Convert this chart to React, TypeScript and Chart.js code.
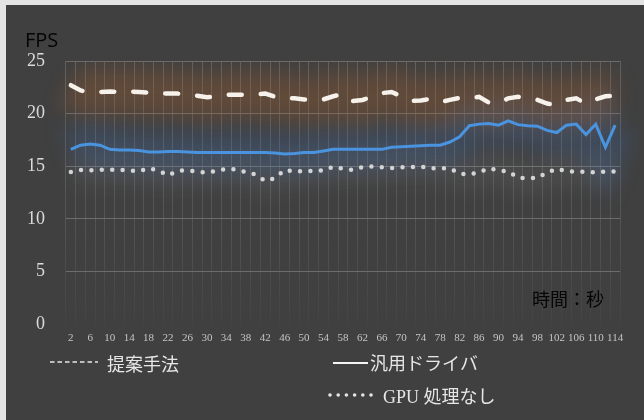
import React, { useEffect, useRef } from "react";
import { Chart, registerables } from "chart.js";

Chart.register(...registerables);

const categories = [
  2, 4, 6, 8, 10, 12, 14, 16, 18, 20, 22, 24, 26, 28, 30, 32, 34, 36, 38, 40,
  42, 44, 46, 48, 50, 52, 54, 56, 58, 60, 62, 64, 66, 68, 70, 72, 74, 76, 78, 80,
  82, 84, 86, 88, 90, 92, 94, 96, 98, 100, 102, 104, 106, 108, 110, 112, 114,
];

const proposed = [
  22.7, 22.2, 22.0, 22.05, 22.1, 22.05, 22.1, 22.05, 22.0, 21.95, 21.9, 21.9,
  21.85, 21.7, 21.55, 21.65, 21.8, 21.8, 21.8, 21.8, 21.9, 21.6, 21.45, 21.45,
  21.35, 21.35, 21.35, 21.65, 21.85, 21.2, 21.3, 21.6, 21.95, 22.05, 21.65,
  21.2, 21.25, 21.4, 21.1, 21.3, 21.5, 21.45, 21.6, 21.05, 21.0, 21.45, 21.6,
  21.35, 21.3, 20.95, 20.85, 21.3, 21.45, 20.95, 21.35, 21.65, 21.7,
];

const generic = [
  16.6, 17.0, 17.1, 17.0, 16.6, 16.55, 16.55, 16.5, 16.35, 16.35, 16.4, 16.4,
  16.35, 16.3, 16.3, 16.3, 16.3, 16.3, 16.3, 16.3, 16.3, 16.25, 16.15, 16.2,
  16.3, 16.3, 16.45, 16.6, 16.6, 16.6, 16.6, 16.6, 16.6, 16.8, 16.85, 16.9,
  16.95, 17.0, 17.0, 17.3, 17.8, 18.85, 19.0, 19.05, 18.9, 19.3, 18.95, 18.85,
  18.8, 18.4, 18.2, 18.9, 19.0, 18.0, 19.0, 16.8, 18.9,
];

const gpuNone = [
  14.45, 14.65, 14.6, 14.65, 14.67, 14.67, 14.6, 14.5, 14.8, 14.6, 14.13,
  14.57, 14.6, 14.5, 14.38, 14.55, 14.75, 14.68, 14.45, 14.2, 13.6, 13.85,
  14.65, 14.48, 14.54, 14.55, 14.6, 14.95, 14.75, 14.65, 14.92, 14.98, 14.9,
  14.83, 14.9, 14.9, 14.97, 14.82, 14.8, 14.8, 14.3, 14.2, 14.42, 14.8, 14.6,
  14.5, 13.9, 13.87, 13.87, 14.4, 14.76, 14.5, 14.5, 14.45, 14.42, 14.5, 14.5,
];

const seriesNames = ["提案手法", "汎用ドライバ", "GPU 処理なし"];
const yTicks = [0, 5, 10, 15, 20, 25];
const yTitle = "FPS";
const xTitle = "時間：秒";

const glowPlugin = {
  id: "glow",
  beforeDatasetDraw(chart: any, args: any) {
    const ds = chart.data.datasets[args.index];
    if (ds.glow) {
      chart.ctx.save();
      chart.ctx.filter = `blur(${ds.glow}px)`;
    }
  },
  afterDatasetDraw(chart: any, args: any) {
    const ds = chart.data.datasets[args.index];
    if (ds.glow) {
      chart.ctx.restore();
    }
  },
};

const decorPlugin = {
  id: "decor",
  afterDraw(chart: any) {
    const ctx = chart.ctx;
    ctx.save();
    // axis titles
    ctx.fillStyle = "#050505";
    ctx.textBaseline = "alphabetic";
    ctx.textAlign = "left";
    ctx.font = '20px "Open Sans", "Noto Sans", sans-serif';
    ctx.fillText(yTitle, 19, 42);
    ctx.textBaseline = "middle";
    ctx.font = '18px "Noto Sans CJK JP", sans-serif';
    ctx.fillText(xTitle, 526, 294);

    // legend
    const legendFont = '18px "Liberation Serif", "Noto Sans CJK JP", serif';
    ctx.font = legendFont;
    ctx.fillStyle = "#e6e6e6";
    ctx.strokeStyle = "#e6e6e6";
    // item 1: dashed
    ctx.lineWidth = 1.5;
    ctx.setLineDash([4.5, 3]);
    ctx.beginPath();
    ctx.moveTo(44, 357);
    ctx.lineTo(92, 357);
    ctx.stroke();
    ctx.setLineDash([]);
    ctx.fillText(seriesNames[0], 101, 361);
    // item 2: solid
    ctx.strokeStyle = "#f5f5f5";
    ctx.lineWidth = 2;
    ctx.beginPath();
    ctx.moveTo(327, 358);
    ctx.lineTo(362, 358);
    ctx.stroke();
    ctx.fillText(seriesNames[1], 364, 360);
    // item 3: dots
    for (let k = 0; k < 6; k++) {
      ctx.beginPath();
      ctx.arc(324 + k * 8.2, 390, 1.8, 0, Math.PI * 2);
      ctx.fill();
    }
    ctx.fillText(seriesNames[2], 377, 393);
    ctx.restore();
  },
};

export default function App() {
  const ref = useRef<HTMLCanvasElement | null>(null);

  useEffect(() => {
    if (!ref.current) return;
    const vGrid = (c: any) => {
      const ch = c.chart;
      const a = ch.chartArea;
      if (!a) return "rgba(255,255,255,0.12)";
      const g = ch.ctx.createLinearGradient(0, a.top, 0, a.bottom);
      g.addColorStop(0, "rgba(255,255,255,0.17)");
      g.addColorStop(0.6, "rgba(255,255,255,0.11)");
      g.addColorStop(1, "rgba(255,255,255,0.02)");
      return g;
    };
    const chart = new Chart(ref.current, {
      type: "line",
      data: {
        labels: categories,
        datasets: [
          {
            label: seriesNames[0],
            data: proposed,
            borderColor: "#f6f1ea",
            borderWidth: 4.5,
            borderDash: [13, 19],
            borderCapStyle: "round",
            pointRadius: 0,
            order: 1,
          },
          {
            label: seriesNames[1],
            data: generic,
            borderColor: "#4a93de",
            borderWidth: 3,
            pointRadius: 0,
            order: 2,
          },
          {
            label: seriesNames[2],
            data: gpuNone,
            borderColor: "#d4d4d4",
            borderWidth: 4.5,
            borderDash: [0, 10.4],
            borderCapStyle: "round",
            pointRadius: 0,
            order: 3,
          },
          {
            label: "glow1",
            data: proposed,
            borderColor: "rgba(180,100,40,0.27)",
            borderWidth: 46,
            pointRadius: 0,
            order: 10,
            glow: 10,
          } as any,
          {
            label: "glow2",
            data: generic,
            borderColor: "rgba(60,115,190,0.22)",
            borderWidth: 42,
            pointRadius: 0,
            order: 11,
            glow: 10,
          } as any,
          {
            label: "glow3",
            data: gpuNone,
            borderColor: "rgba(220,220,220,0.07)",
            borderWidth: 30,
            pointRadius: 0,
            order: 12,
            glow: 10,
          } as any,
        ],
      },
      options: {
        animation: false,
        responsive: true,
        maintainAspectRatio: false,
        layout: { padding: { top: 56, right: 24, left: 0, bottom: 0 } },
        plugins: {
          legend: { display: false },
          tooltip: { enabled: false },
        },
        scales: {
          x: {
            offset: true,
            afterFit: (s: any) => {
              s.height = 96;
            },
            grid: {
              offset: true,
              color: vGrid,
              lineWidth: 1,
              drawTicks: false,
            },
            border: { display: false },
            ticks: {
              autoSkip: false,
              maxRotation: 0,
              minRotation: 0,
              padding: 8,
              color: "#c4c4c4",
              font: { family: '"Liberation Serif", serif', size: 11 },
              callback: (_v: any, i: number) =>
                i % 2 === 0 ? String(categories[i]) : "",
            },
          },
          y: {
            min: 0,
            max: 25,
            afterFit: (s: any) => {
              s.width = 60;
            },
            afterBuildTicks: (s: any) => {
              s.ticks = yTicks.map((v) => ({ value: v }));
            },
            grid: {
              color: (c: any) =>
                c.tick && c.tick.value === 0 ? "rgba(0,0,0,0)" : "#6c6c6c",
              lineWidth: 1,
              drawTicks: false,
            },
            border: { display: false },
            ticks: {
              padding: 21,
              color: "#dadada",
              font: { family: '"Liberation Serif", serif', size: 18 },
            },
          },
        },
      },
      plugins: [glowPlugin, decorPlugin],
    } as any);
    return () => chart.destroy();
  }, []);

  return (
    <div
      style={{
        position: "fixed",
        left: 0,
        top: 0,
        width: 644,
        height: 420,
        background: "#e4e4e4",
      }}
    >
      <div
        style={{
          position: "absolute",
          left: 6,
          top: 5,
          width: 638,
          height: 415,
          background: "#404040",
        }}
      >
        <canvas ref={ref} />
      </div>
    </div>
  );
}
